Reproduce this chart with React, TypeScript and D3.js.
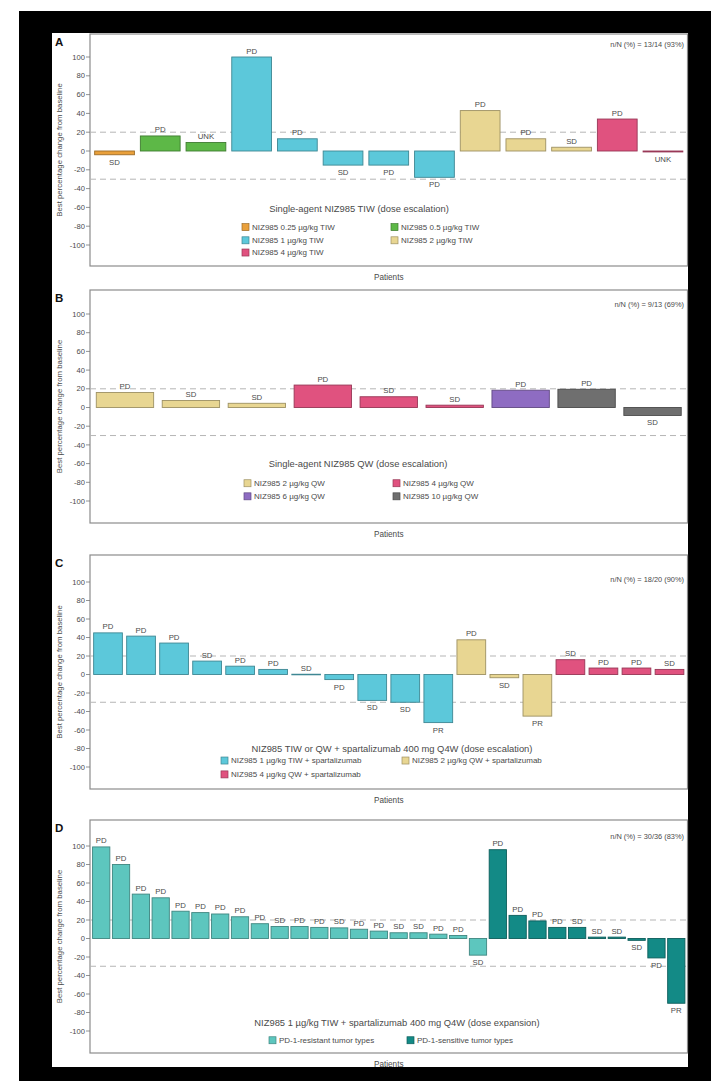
import React from "react";
import * as d3 from "d3";

// ---------- DATA ----------
// Panel A: Single-agent NIZ985 TIW (dose escalation)
const aValues = [-4, 16, 9, 100, 13, -15, -15, -28, 43, 13, 4, 34, -1];
const aLabels = ["SD", "PD", "UNK", "PD", "PD", "SD", "PD", "PD", "PD", "PD", "SD", "PD", "UNK"];
const aGroups = ["a025", "a05", "a05", "a1", "a1", "a1", "a1", "a1", "a2", "a2", "a2", "a4", "a4"];

// Panel B: Single-agent NIZ985 QW (dose escalation)
const bValues = [16, 7.5, 4.5, 24, 11.5, 2.5, 18.5, 19.5, -8.5];
const bLabels = ["PD", "SD", "SD", "PD", "SD", "SD", "PD", "PD", "SD"];
const bGroups = ["b2", "b2", "b2", "b4", "b4", "b4", "b6", "b10", "b10"];

// Panel C: NIZ985 TIW or QW + spartalizumab (dose escalation)
const cValues = [45, 41.5, 34, 14.5, 9, 5.5, 0.3, -5.5, -28, -30, -52, 37.5, -3.5, -45, 16, 7, 7, 5.5];
const cLabels = ["PD", "PD", "PD", "SD", "PD", "PD", "SD", "PD", "SD", "SD", "PR", "PD", "SD", "PR", "SD", "PD", "PD", "SD"];
const cGroups = ["c1", "c1", "c1", "c1", "c1", "c1", "c1", "c1", "c1", "c1", "c1", "c2", "c2", "c2", "c4", "c4", "c4", "c4"];

// Panel D: NIZ985 1 µg/kg TIW + spartalizumab (dose expansion)
const dValues = [99, 80, 48, 44, 29.5, 28, 26.5, 23.5, 16, 13, 13, 12, 11.5, 10, 8, 6.2, 6.2, 4.7, 3.3, -18,
  96, 25, 19, 12, 12, 1.5, 1.5, -2, -21, -70];
const dLabels = ["PD", "PD", "PD", "PD", "PD", "PD", "PD", "PD", "PD", "SD", "PD", "PD", "SD", "PD", "PD", "SD", "SD", "PD", "PD", "SD",
  "PD", "PD", "PD", "PD", "SD", "SD", "SD", "SD", "PD", "PR"];
const dGroups = ["dr", "dr", "dr", "dr", "dr", "dr", "dr", "dr", "dr", "dr", "dr", "dr", "dr", "dr", "dr", "dr", "dr", "dr", "dr", "dr",
  "ds", "ds", "ds", "ds", "ds", "ds", "ds", "ds", "ds", "ds"];

const groupKeys = ["a025", "a05", "a1", "a2", "a4", "b2", "b4", "b6", "b10", "c1", "c2", "c4", "dr", "ds"];
const groupColors = ["#E9A03B", "#5DB847", "#5CC8DA", "#E8D692", "#E0527F", "#E8D692", "#E0527F", "#8E6CC2", "#6F6F6F",
  "#5CC8DA", "#E8D692", "#E0527F", "#5DC6BE", "#138A86"];
const groupNames = ["NIZ985 0.25 µg/kg TIW", "NIZ985 0.5 µg/kg TIW", "NIZ985 1 µg/kg TIW", "NIZ985 2 µg/kg TIW", "NIZ985 4 µg/kg TIW",
  "NIZ985 2 µg/kg QW", "NIZ985 4 µg/kg QW", "NIZ985 6 µg/kg QW", "NIZ985 10 µg/kg QW",
  "NIZ985 1 µg/kg TIW + spartalizumab", "NIZ985 2 µg/kg QW + spartalizumab", "NIZ985 4 µg/kg QW + spartalizumab",
  "PD-1-resistant tumor types", "PD-1-sensitive tumor types"];

const panelLetters = ["A", "B", "C", "D"];
const panelTitles = [
  "Single-agent NIZ985 TIW (dose escalation)",
  "Single-agent NIZ985 QW (dose escalation)",
  "NIZ985 TIW or QW + spartalizumab 400 mg Q4W  (dose escalation)",
  "NIZ985 1 µg/kg TIW + spartalizumab 400 mg Q4W (dose expansion)",
];
const panelRates = ["n/N (%) = 13/14 (93%)", "n/N (%) = 9/13 (69%)", "n/N (%) = 18/20 (90%)", "n/N (%) = 30/36 (83%)"];
const yTicks = [100, 80, 60, 40, 20, 0, -20, -40, -60, -80, -100];
const refLines = [20, -30];
const yTitle = "Best percentage change from baseline";
const xTitle = "Patients";

// ---------- LAYOUT ----------
const W = 711, H = 1081;
const FRAME_L = 90, FRAME_R = 687.5;
const FONT = "'Liberation Sans', Arial, Helvetica, sans-serif";

const colorScale = d3.scaleOrdinal<string, string>().domain(groupKeys).range(groupColors);
const nameOf = (k: string) => groupNames[groupKeys.indexOf(k)];

const panels = [
  { values: aValues, labels: aLabels, groups: aGroups, top: 34, bottom: 266, y100: 57, yM100: 245, rateDy: -13,
    titleX: 359, titleV: -61, legendCols: [242, 391], legendRows: [-81, -95, -108],
    legend: [["a025", "a05"], ["a1", "a2"], ["a4"]] },
  { values: bValues, labels: bLabels, groups: bGroups, top: 290, bottom: 523, y100: 314, yM100: 501, rateDy: -10,
    titleX: 358, titleV: -60, legendCols: [244, 393], legendRows: [-81, -95],
    legend: [["b2", "b4"], ["b6", "b10"]] },
  { values: cValues, labels: cLabels, groups: cGroups, top: 555, bottom: 789, y100: 582, yM100: 767, rateDy: -3,
    titleX: 392, titleV: -80, legendCols: [221, 402], legendRows: [-93, -108],
    legend: [["c1", "c2"], ["c4"]] },
  { values: dValues, labels: dLabels, groups: dGroups, top: 820, bottom: 1053, y100: 846, yM100: 1031, rateDy: -10,
    titleX: 397, titleV: -91, legendCols: [269, 407], legendRows: [-110],
    legend: [["dr", "ds"]] },
];

function Panel({ cfg, idx }: { cfg: any; idx: number }) {
  const n = cfg.values.length;
  const x = d3.scaleBand<number>().domain(d3.range(n)).range([FRAME_L + 1, FRAME_R - 1]).paddingInner(0.13).paddingOuter(0.08);
  const y = d3.scaleLinear().domain([-100, 100]).range([cfg.yM100, cfg.y100]);
  const midY = (cfg.top + cfg.bottom) / 2;
  const textCol = "#4a4a4a";
  return (
    <g>
      <rect x={FRAME_L} y={cfg.top} width={FRAME_R - FRAME_L} height={cfg.bottom - cfg.top} fill="none" stroke="#8c8c8c" strokeWidth={1.2} />
      <text x={55} y={cfg.top + 12} fontSize={11.5} fontWeight="bold" fill="#111" fontFamily={FONT}>{panelLetters[idx]}</text>
      {yTicks.map((t) => (
        <g key={t}>
          <line x1={FRAME_L - 4} x2={FRAME_L} y1={y(t)} y2={y(t)} stroke="#777" strokeWidth={0.8} />
          <text x={FRAME_L - 5} y={y(t)} dy="0.35em" textAnchor="end" fontSize={7.6} fill={textCol} fontFamily={FONT}>{t}</text>
        </g>
      ))}
      <text transform={`translate(59,${midY}) rotate(-90)`} textAnchor="middle" dy="0.35em" fontSize={7.8} fill={textCol} fontFamily={FONT}>{yTitle}</text>
      <text x={(FRAME_L + FRAME_R) / 2} y={cfg.bottom + 11} dy="0.35em" textAnchor="middle" fontSize={8.2} fill={textCol} fontFamily={FONT}>{xTitle}</text>
      {refLines.map((r) => (
        <line key={r} x1={FRAME_L} x2={FRAME_R} y1={y(r)} y2={y(r)} stroke="#b5b5b5" strokeWidth={1} strokeDasharray="6,4" />
      ))}
      {cfg.values.map((v: number, i: number) => {
        const c = colorScale(cfg.groups[i]);
        const y0 = y(Math.max(v, 0));
        const h = Math.abs(y(v) - y(0));
        return (
          <rect key={i} x={x(i)} y={y0} width={x.bandwidth()} height={Math.max(h, 0.6)} fill={c}
            stroke={d3.color(c)!.darker(1.1).formatHex()} strokeWidth={0.9} />
        );
      })}
      {cfg.values.map((v: number, i: number) => (
        <text key={i} x={x(i)! + x.bandwidth() / 2} y={v >= 0 ? y(v) - 3.5 : y(v) + 10} textAnchor="middle" fontSize={7.8}
          fill={textCol} fontFamily={FONT}>{cfg.labels[i]}</text>
      ))}
      <text x={684} y={cfg.y100 + cfg.rateDy} dy="0.35em" textAnchor="end" fontSize={7.4} fill={textCol} fontFamily={FONT}>{panelRates[idx]}</text>
      <text x={cfg.titleX} y={y(cfg.titleV)} dy="0.35em" textAnchor="middle" fontSize={9.4} fill={textCol} fontFamily={FONT}>{panelTitles[idx]}</text>
      {cfg.legend.map((row: string[], ri: number) =>
        row.map((k: string, ci: number) => {
          const c = colorScale(k);
          const ly = y(cfg.legendRows[ri]);
          const lx = cfg.legendCols[ci];
          return (
            <g key={k}>
              <rect x={lx} y={ly - 3.5} width={7} height={7} fill={c} stroke={d3.color(c)!.darker(1.1).formatHex()} strokeWidth={0.7} />
              <text x={lx + 10} y={ly} dy="0.35em" fontSize={8} fill={textCol} fontFamily={FONT}>{nameOf(k)}</text>
            </g>
          );
        })
      )}
    </g>
  );
}

export default function App() {
  return (
    <svg width={W} height={H} style={{ position: "absolute", left: 0, top: 0, background: "#fff" }}>
      <rect x={0} y={0} width={W} height={H} fill="#fff" />
      <rect x={19} y={11} width={W - 19} height={H - 11} fill="#000" />
      <rect x={52} y={33} width={688 - 52} height={1067 - 33} fill="#fff" />
      {panels.map((p, i) => <Panel key={i} cfg={p} idx={i} />)}
    </svg>
  );
}
